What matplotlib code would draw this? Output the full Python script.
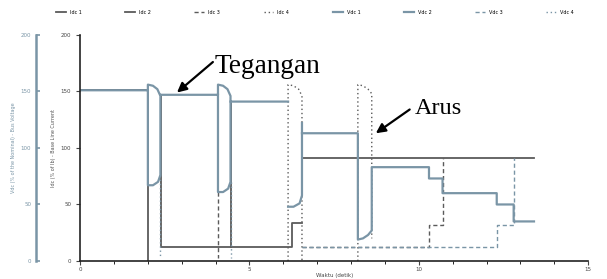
import numpy as np
import matplotlib
matplotlib.use("Agg")
import matplotlib.pyplot as plt

nan = np.nan

# data (waktu in detik, nilai in %)
idc1_t = [0, 2.0, 2.0]
idc1_v = [151, 151, 0]
idc2_t = [2.39, 2.39, 6.25, 6.25, 6.55, nan, 4.45, 4.45, nan, 6.55, 13.4]
idc2_v = [147, 12, 12, 34, 34, nan, 141, 12, nan, 91, 91]
idc3_t = [4.07, 4.07, nan, 6.55, 10.3, 10.3, 10.7, 10.7]
idc3_v = [61, 3, nan, 12, 12, 32, 32, 91]
idc4_t = [8.2, 8.2, 8.35, 8.5, 8.61, 8.61, nan, 6.14, 6.14, 6.3, 6.45, 6.55, 6.55]
idc4_v = [0, 156, 155, 152, 148, 20, nan, 0, 156, 155, 152, 146, 0]

vdc1_t = [0, 2.0, 2.0, 2.15, 2.28, 2.37, 2.37, 2.3, 2.15, 2.0, 2.0, nan,
          2.39, 4.07, 4.07, 4.22, 4.35, 4.44, 4.44, 4.37, 4.22, 4.07, 4.07, nan,
          4.45, 6.14, nan,
          6.55, 8.2, 8.2, 8.35, 8.5, 8.61, 8.61, 10.3, 10.3, 10.7, 10.7,
          12.3, 12.3, 12.8, 12.8, 13.4]
vdc1_v = [151, 151, 156, 155, 152, 146, 76, 70, 67, 67, 151, nan,
          147, 147, 156, 155, 152, 146, 70, 64, 61, 61, 147, nan,
          141, 141, nan,
          113, 113, 19, 20, 23, 27, 83, 83, 73, 73, 60,
          60, 50, 50, 35, 35]
vdc2_t = [6.14, 6.3, 6.48, 6.55, 6.55]
vdc2_v = [48, 48, 51, 58, 122]
vdc3_t = [6.55, 12.3, 12.3, 12.8, 12.8]
vdc3_v = [12, 12, 32, 32, 91]
vdc4_t = [4.44, 4.44, nan, 2.37, 2.37]
vdc4_v = [70, 3, nan, 76, 3]

dark = "#5b5b5b"
blue = "#7a95a6"

fig = plt.figure(figsize=(6.07, 2.79), dpi=100)
ax = fig.add_axes([0.132, 0.0645, 0.837, 0.8105])

ax.plot(idc1_t, idc1_v, color=dark, lw=1.3, label="Idc 1")
ax.plot(idc2_t, idc2_v, color=dark, lw=1.3, label="Idc 2")
ax.plot(idc3_t, idc3_v, color=dark, lw=1.0, ls=(0, (3, 2)), label="Idc 3")
ax.plot(idc4_t, idc4_v, color=dark, lw=1.0, ls=(0, (1, 2)), label="Idc 4")
ax.plot(vdc1_t, vdc1_v, color=blue, lw=1.6, label="Vdc 1")
ax.plot(vdc2_t, vdc2_v, color=blue, lw=1.6, label="Vdc 2")
ax.plot(vdc3_t, vdc3_v, color=blue, lw=1.0, ls=(0, (3, 2)), label="Vdc 3")
ax.plot(vdc4_t, vdc4_v, color=blue, lw=1.0, ls=(0, (1, 2)), label="Vdc 4")

ax.set_xlim(0, 15)
ax.set_ylim(0, 200)
ax.set_xticks([0, 5, 10, 15])
ax.set_xticks(np.arange(0, 16, 1), minor=True)
ax.set_yticks([0, 50, 100, 150, 200])
ax.tick_params(labelsize=4, length=3, width=0.8, colors="#444444")
ax.tick_params(axis="x", pad=1.2)
ax.tick_params(which="minor", length=2, width=0.6)
for s in ["top", "right"]:
    ax.spines[s].set_visible(False)
ax.spines["left"].set_linewidth(1.2)
ax.spines["bottom"].set_linewidth(1.2)
ax.spines["left"].set_color("#222222")
ax.spines["bottom"].set_color("#222222")
ax.set_xlabel("Waktu (detik)", fontsize=4, labelpad=0.5, color="#444444")
ax.set_ylabel("Idc (% of Ib) - Base Line Current", fontsize=3.5, labelpad=3, color="#555555")

ax2 = ax.twinx()
ax2.spines["left"].set_position(("axes", -0.087))
ax2.spines["left"].set_visible(True)
ax2.spines["left"].set_color(blue)
ax2.spines["left"].set_linewidth(1.8)
for s in ["top", "right", "bottom"]:
    ax2.spines[s].set_visible(False)
ax2.yaxis.set_ticks_position("left")
ax2.yaxis.set_label_position("left")
ax2.set_ylim(0, 200)
ax2.set_yticks([0, 50, 100, 150, 200])
ax2.tick_params(axis="y", labelsize=4, length=3, direction="in", colors=blue, width=1.2)
ax2.set_ylabel("Vdc (% of the Nominal) - Bus Voltage", fontsize=3.5, labelpad=3, color=blue)

fig.legend(loc="upper left", bbox_to_anchor=(0.085, 0.98), ncol=8, fontsize=3.5,
           frameon=False, handlelength=2.0, columnspacing=9.0, handletextpad=0.8)

arrow = dict(arrowstyle="-|>", color="black", lw=1.6, mutation_scale=14,
             shrinkA=0, shrinkB=0)
ax.text(3.98, 172, "Tegangan", fontsize=19.6, family="Liberation Serif", va="center", ha="left")
ax.annotate("", xy=(2.86, 149), xytext=(3.92, 176), arrowprops=arrow)
ax.text(9.88, 135, "Arus", fontsize=17.5, family="Liberation Serif", va="center", ha="left")
ax.annotate("", xy=(8.73, 113), xytext=(9.73, 134), arrowprops=arrow)

fig.savefig("out.png", dpi=100)
